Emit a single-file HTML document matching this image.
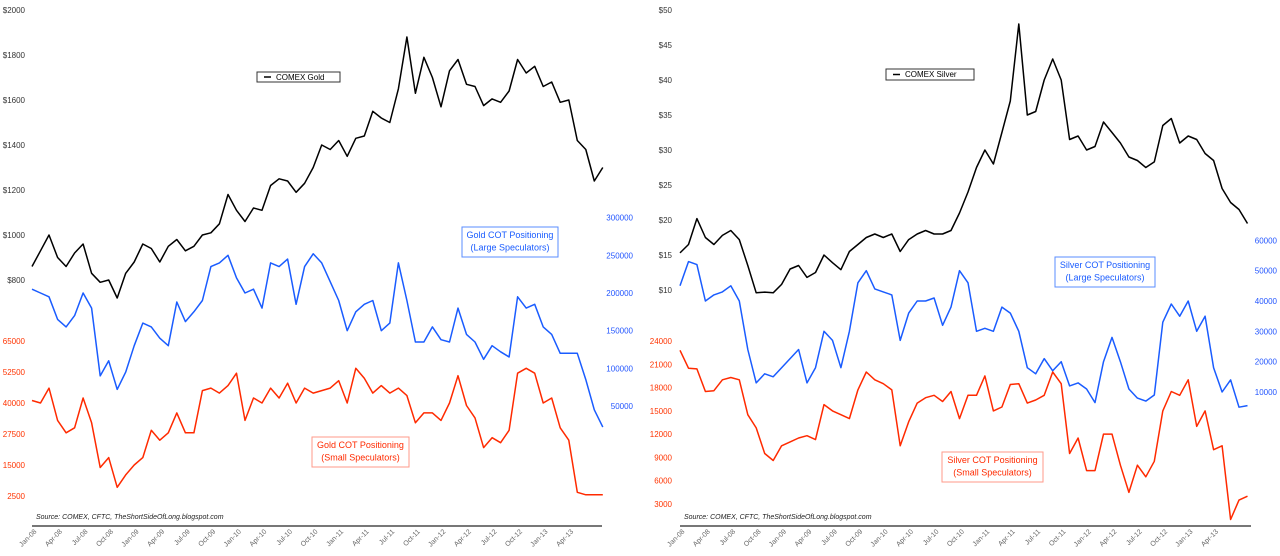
<!DOCTYPE html>
<html><head><meta charset="utf-8">
<style>
html,body{margin:0;padding:0;background:#fff;}
svg{display:block;font-family:"Liberation Sans",sans-serif;}
</style></head>
<body>
<svg id="chart" width="1280" height="556" viewBox="0 0 1280 556" xmlns="http://www.w3.org/2000/svg">
  <rect width="1280" height="556" fill="#fff"/>
</svg>
<script>
// ---- data (monthly, Jan-08 .. Aug-13) ----
const xTickLabels = ["Jan-08","Apr-08","Jul-08","Oct-08","Jan-09","Apr-09","Jul-09","Oct-09","Jan-10","Apr-10","Jul-10","Oct-10","Jan-11","Apr-11","Jul-11","Oct-11","Jan-12","Apr-12","Jul-12","Oct-12","Jan-13","Apr-13"];
const goldPrice = [860,930,1000,900,860,920,960,830,790,800,720,830,880,960,940,880,950,980,930,950,1000,1010,1050,1180,1110,1060,1120,1110,1220,1250,1240,1190,1230,1300,1400,1380,1420,1350,1430,1440,1550,1520,1500,1650,1880,1630,1790,1700,1570,1730,1780,1670,1660,1575,1605,1590,1640,1780,1720,1750,1660,1680,1590,1600,1420,1380,1240,1300];
const goldLarge = [205000,200000,195000,165000,155000,170000,200000,180000,90000,110000,72000,95000,130000,160000,155000,140000,130000,188000,162000,175000,190000,235000,240000,250000,220000,200000,205000,180000,240000,235000,245000,185000,235000,252000,240000,215000,190000,150000,175000,185000,190000,150000,160000,240000,190000,135000,135000,155000,138000,135000,180000,145000,135000,112000,130000,122000,115000,195000,180000,185000,155000,145000,120000,120000,120000,85000,45000,22000];
const goldSmall = [41000,40000,46000,33000,28000,30000,42000,32000,14000,18000,6000,11000,15000,18000,29000,25000,28000,36000,28000,28000,45000,46000,44000,47000,52000,33000,42000,40000,46000,42000,48000,40000,46000,44000,45000,46000,49000,40000,54000,50000,44000,47000,44000,46000,43000,32000,36000,36000,33000,40000,51000,39000,34000,22000,26000,24000,29000,52000,54000,52000,40000,42000,30000,25000,4000,3000,3000,3000];
const silverPrice = [15.3,16.5,20.2,17.5,16.5,17.8,18.5,17.2,13.5,9.6,9.7,9.6,10.8,13.0,13.5,11.8,12.5,15.0,13.9,12.9,15.5,16.5,17.5,18.0,17.5,18.0,15.5,17.2,18.0,18.5,18.0,18.0,18.5,21.0,24.0,27.5,30.0,28.0,32.5,37.0,48.0,35.0,35.5,40.0,43.0,40.0,31.5,32.0,30.0,30.5,34.0,32.5,31.0,29.0,28.5,27.5,28.3,33.5,34.5,31.0,32.0,31.5,29.5,28.5,24.5,22.5,21.5,19.5];
const silverLarge = [45000,53000,52000,40000,42000,43000,45000,40000,24000,13000,16000,15000,18000,21000,24000,13000,18000,30000,27000,18000,30000,46000,50000,44000,43000,42000,27000,36000,40000,40000,41000,32000,38000,50000,46000,30000,31000,30000,38000,36000,30000,18000,16000,21000,17000,20000,12000,13000,11000,6500,20000,28000,20000,11000,8000,7000,9000,33000,39000,35000,40000,30000,35000,18000,10000,14000,5000,5500];
const silverSmall = [22800,20500,20400,17500,17600,19000,19300,19000,14500,12800,9500,8600,10500,11000,11500,11800,11300,15800,15000,14500,14000,17700,20000,19000,18500,17700,10500,13600,16000,16700,17000,16200,17500,14000,17000,17000,19500,15000,15500,18400,18500,16000,16400,17000,20000,18500,9500,11500,7300,7300,12000,12000,8000,4500,8000,6500,8500,15000,17500,17000,19000,13000,15000,10000,10500,1000,3500,4000];
const goldPriceTicks = [2000,1800,1600,1400,1200,1000,800];
const goldLargeTicks = [300000,250000,200000,150000,100000,50000];
const goldSmallTicks = [65000,52500,40000,27500,15000,2500];
const silverPriceTicks = [50,45,40,35,30,25,20,15,10];
const silverLargeTicks = [60000,50000,40000,30000,20000,10000];
const silverSmallTicks = [24000,21000,18000,15000,12000,9000,6000,3000];

const NS = "http://www.w3.org/2000/svg";
const svg = document.getElementById('chart');
function mk(tag, attrs, parent){ const e=document.createElementNS(NS,tag); for(const k in attrs) e.setAttribute(k,attrs[k]); (parent||svg).appendChild(e); return e; }
function lin(d0,d1,r0,r1){ return v => r0 + (v-d0)/(d1-d0)*(r1-r0); }

function panel(cfg){
  const g = mk('g',{});
  
  
  const x = m => cfg.x0 + m*cfg.mw;
  // axis line
  const ax = mk('line',{x1:cfg.x0,y1:526,x2:cfg.xEnd,y2:526,stroke:'#777','stroke-width':2},g);
  
  
  xTickLabels.forEach((lab,i)=>{
    const tx = x(i*3)+5;
    const t = mk('text',{x:tx,y:532,'font-size':7,fill:'#666','text-anchor':'end',transform:`rotate(-45 ${tx} 532)`},g);
    t.textContent = lab;
    
    
  });
  // axes ticks
  cfg.axes.forEach(a=>{
    a.ticks.forEach(v=>{
      const t = mk('text',{x:a.tx,y:a.scale(v)+3,'font-size':8,fill:a.color,'text-anchor':'end'},g);
      t.textContent = a.fmt(v);
      
      
    });
  });
  // series
  cfg.series.forEach(s=>{
    const pts = s.data.map((v,i)=>x(i).toFixed(1)+','+s.scale(v).toFixed(1)).join(' ');
    const p = mk('polyline',{points:pts,fill:'none',stroke:s.color,'stroke-width':1.5,'stroke-linejoin':'round'},g);
    
    
  });
  // boxes / legend
  cfg.boxes.forEach(b=>{
    const bg = mk('g',{},g);
    
    
    mk('rect',{x:b.x,y:b.y,width:b.w,height:b.h,fill:'#fff',stroke:b.stroke,'stroke-width':1},bg);
    if(b.legend){
      mk('line',{x1:b.x+7,y1:b.y+b.h/2,x2:b.x+14,y2:b.y+b.h/2,stroke:'#000','stroke-width':1.5},bg);
    }
    b.lines.forEach((ln,i)=>{
      const t = mk('text',{x:b.legend?b.x+19:b.x+b.w/2,y:b.y+(b.legend?8:11+i*12.5),'font-size':b.legend?8:9,fill:b.color,'text-anchor':b.legend?'start':'middle'},bg);
      t.textContent = ln;
    });
  });
  const src = mk('text',{x:cfg.x0+4,y:519,'font-size':7,'font-style':'italic',fill:'#222'},g);
  src.textContent = 'Source: COMEX, CFTC, TheShortSideOfLong.blogspot.com';
  
  
}

const gP = lin(2000,800,10,280), gL = lin(200000,50000,293,406), gS = lin(65000,2500,341,496);
panel({name:'gold-panel', x0:32, mw:8.52, xEnd:602,
  axes:[
    {axisName:'gold-price-axis', ticks:goldPriceTicks, scale:gP, tx:25, color:'#333', fmt:v=>'$'+v},
    {axisName:'gold-large-axis', ticks:goldLargeTicks, scale:gL, tx:633, color:'#2255ff', fmt:v=>String(v)},
    {axisName:'gold-small-axis', ticks:goldSmallTicks, scale:gS, tx:25, color:'#ff3300', fmt:v=>String(v)}],
  series:[
    {name:'gold-price-line', data:goldPrice, scale:gP, color:'#000'},
    {name:'gold-large-spec-line', data:goldLarge, scale:gL, color:'#1a5cff'},
    {name:'gold-small-spec-line', data:goldSmall, scale:gS, color:'#ff2a00'}],
  boxes:[
    {name:'gold-legend', x:257, y:72, w:83, h:10, stroke:'#333', color:'#000', legend:true, lines:['COMEX Gold']},
    {name:'gold-large-spec-label', x:462, y:227, w:96, h:30, stroke:'#5a8cff', color:'#1a5cff', lines:['Gold COT Positioning','(Large Speculators)']},
    {name:'gold-small-spec-label', x:312, y:437, w:97, h:30, stroke:'#ff9a8a', color:'#ff2a00', lines:['Gold COT Positioning','(Small Speculators)']}]
});

const sP = lin(50,10,10,290), sL = lin(40000,10000,301,392), sS = lin(24000,3000,341,504);
panel({name:'silver-panel', x0:680, mw:8.47, xEnd:1251,
  axes:[
    {axisName:'silver-price-axis', ticks:silverPriceTicks, scale:sP, tx:672, color:'#333', fmt:v=>'$'+v},
    {axisName:'silver-large-axis', ticks:silverLargeTicks, scale:sL, tx:1277, color:'#2255ff', fmt:v=>String(v)},
    {axisName:'silver-small-axis', ticks:silverSmallTicks, scale:sS, tx:672, color:'#ff3300', fmt:v=>String(v)}],
  series:[
    {name:'silver-price-line', data:silverPrice, scale:sP, color:'#000'},
    {name:'silver-large-spec-line', data:silverLarge, scale:sL, color:'#1a5cff'},
    {name:'silver-small-spec-line', data:silverSmall, scale:sS, color:'#ff2a00'}],
  boxes:[
    {name:'silver-legend', x:886, y:69, w:88, h:11, stroke:'#333', color:'#000', legend:true, lines:['COMEX Silver']},
    {name:'silver-large-spec-label', x:1055, y:257, w:100, h:30, stroke:'#5a8cff', color:'#1a5cff', lines:['Silver COT Positioning','(Large Speculators)']},
    {name:'silver-small-spec-label', x:942, y:452, w:101, h:30, stroke:'#ff9a8a', color:'#ff2a00', lines:['Silver COT Positioning','(Small Speculators)']}]
});
</script>
</body></html>
